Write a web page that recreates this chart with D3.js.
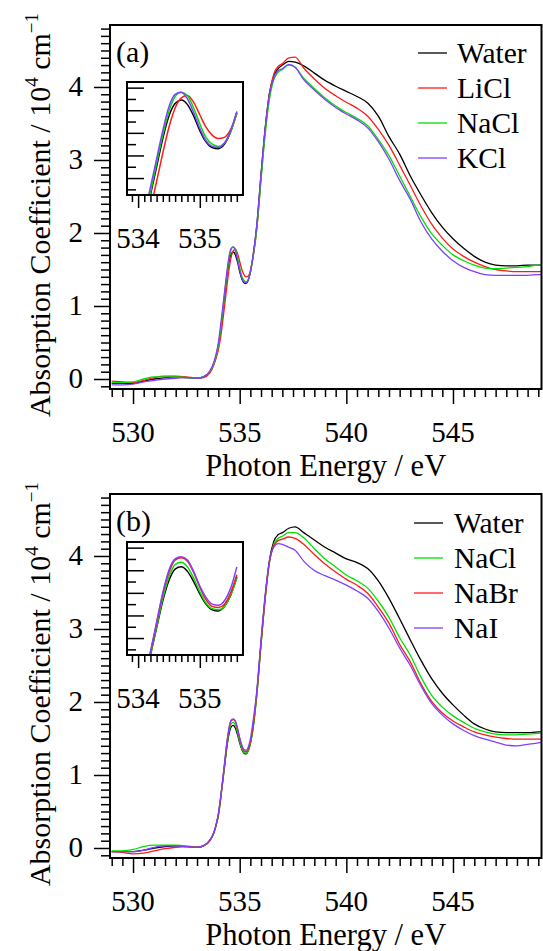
<!DOCTYPE html>
<html><head><meta charset="utf-8">
<script src="https://cdn.jsdelivr.net/npm/d3@7"></script>
</head><body style="margin:0">
<svg id="chart" width="543" height="951"></svg>
<script>
// ---------------- DATA ----------------
const energy = [529.0, 529.5, 530.0, 530.5, 531.0, 531.5, 532.0, 532.5, 533.0, 533.3, 533.6,
  533.8, 533.9, 534.0, 534.1, 534.2, 534.3, 534.4, 534.5, 534.6, 534.7, 534.8, 534.9, 535.0, 535.1, 535.2, 535.3, 535.4, 535.5, 535.6,
  535.8, 536.0, 536.2, 536.4, 536.6, 536.8, 537.0, 537.3, 537.6,
  538.0, 538.5, 539.0, 539.5, 540.0, 540.5, 541.0, 541.5, 542.0, 542.5, 543.0, 543.5, 544.0, 544.5, 545.0, 545.5, 546.0, 546.5, 547.0, 547.5, 548.0, 548.5, 549.0, 549.2];

const namesA = ["Water", "LiCl", "NaCl", "KCl"];
const colorsA = ["#000000", "#ff1a1a", "#00e000", "#7f3fff"];
const waterA = [-0.06, -0.06, -0.06, -0.03, 0.00, 0.02, 0.03, 0.02, 0.01, 0.03, 0.10,
  0.22, 0.32, 0.45, 0.65, 0.90, 1.15, 1.40, 1.60, 1.71, 1.74, 1.70, 1.60, 1.47, 1.37, 1.32, 1.31, 1.35, 1.46, 1.63,
  2.10, 2.80, 3.45, 3.92, 4.15, 4.25, 4.30, 4.35, 4.34,
  4.29, 4.19, 4.09, 4.01, 3.94, 3.87, 3.78, 3.60, 3.32, 3.08, 2.78, 2.52, 2.28, 2.08, 1.92, 1.79, 1.68, 1.60, 1.56, 1.55, 1.55, 1.56, 1.56, 1.56];
const liclA = [-0.03, -0.04, -0.05, -0.02, 0.02, 0.04, 0.04, 0.03, 0.01, 0.02, 0.08,
  0.20, 0.29, 0.40, 0.56, 0.78, 1.02, 1.27, 1.50, 1.67, 1.76, 1.78, 1.72, 1.61, 1.50, 1.43, 1.40, 1.41, 1.48, 1.62,
  2.05, 2.75, 3.42, 3.92, 4.18, 4.28, 4.32, 4.40, 4.41,
  4.26, 4.11, 3.98, 3.88, 3.79, 3.71, 3.60, 3.42, 3.20, 2.93, 2.65, 2.37, 2.12, 1.93, 1.78, 1.68, 1.60, 1.54, 1.50, 1.48, 1.47, 1.47, 1.47, 1.47];
const naclA = [-0.05, -0.05, -0.04, 0.00, 0.03, 0.03, 0.03, 0.02, 0.01, 0.03, 0.10,
  0.22, 0.32, 0.46, 0.66, 0.92, 1.18, 1.43, 1.64, 1.77, 1.81, 1.78, 1.67, 1.53, 1.41, 1.35, 1.33, 1.36, 1.46, 1.63,
  2.05, 2.72, 3.36, 3.84, 4.10, 4.20, 4.24, 4.30, 4.27,
  4.12, 3.98, 3.85, 3.74, 3.65, 3.57, 3.47, 3.28, 3.06, 2.78, 2.50, 2.22, 1.99, 1.83, 1.70, 1.62, 1.56, 1.52, 1.51, 1.52, 1.53, 1.54, 1.56, 1.56];
const kclA = [-0.08, -0.08, -0.07, -0.04, -0.02, 0.00, 0.01, 0.02, 0.01, 0.03, 0.11,
  0.24, 0.35, 0.50, 0.72, 0.97, 1.22, 1.47, 1.68, 1.79, 1.81, 1.75, 1.63, 1.49, 1.38, 1.33, 1.32, 1.36, 1.47, 1.64,
  2.10, 2.80, 3.44, 3.90, 4.13, 4.22, 4.25, 4.31, 4.27,
  4.10, 3.96, 3.83, 3.72, 3.63, 3.55, 3.44, 3.25, 3.01, 2.72, 2.46, 2.15, 1.92, 1.75, 1.62, 1.53, 1.47, 1.43, 1.42, 1.42, 1.42, 1.42, 1.43, 1.43];

const namesB = ["Water", "NaCl", "NaBr", "NaI"];
const colorsB = ["#000000", "#00e000", "#ff1a1a", "#7f3fff"];
const waterB = [-0.05, -0.05, -0.05, -0.03, 0.00, 0.02, 0.03, 0.02, 0.01, 0.03, 0.10,
  0.22, 0.32, 0.45, 0.66, 0.90, 1.14, 1.38, 1.56, 1.66, 1.68, 1.64, 1.55, 1.44, 1.35, 1.30, 1.29, 1.33, 1.43, 1.59,
  2.10, 2.80, 3.45, 3.95, 4.20, 4.29, 4.32, 4.38, 4.40,
  4.32, 4.22, 4.12, 4.04, 3.96, 3.91, 3.83, 3.66, 3.42, 3.14, 2.85, 2.57, 2.32, 2.12, 1.96, 1.82, 1.70, 1.63, 1.59, 1.58, 1.58, 1.58, 1.59, 1.59];
const naclB = [-0.04, -0.04, -0.02, 0.02, 0.04, 0.04, 0.04, 0.03, 0.01, 0.03, 0.10,
  0.21, 0.31, 0.44, 0.65, 0.90, 1.15, 1.40, 1.59, 1.70, 1.72, 1.68, 1.58, 1.46, 1.36, 1.31, 1.30, 1.33, 1.43, 1.58,
  2.08, 2.78, 3.42, 3.92, 4.16, 4.24, 4.27, 4.32, 4.32,
  4.25, 4.10, 3.96, 3.85, 3.74, 3.66, 3.56, 3.38, 3.16, 2.88, 2.64, 2.34, 2.09, 1.93, 1.81, 1.72, 1.64, 1.59, 1.56, 1.55, 1.55, 1.56, 1.57, 1.58];
const nabrB = [-0.05, -0.06, -0.08, -0.07, -0.04, -0.01, 0.01, 0.02, 0.01, 0.03, 0.10,
  0.22, 0.32, 0.46, 0.67, 0.92, 1.18, 1.44, 1.63, 1.74, 1.76, 1.73, 1.63, 1.50, 1.39, 1.33, 1.32, 1.35, 1.45, 1.61,
  2.12, 2.80, 3.44, 3.92, 4.14, 4.21, 4.23, 4.26, 4.24,
  4.16, 4.02, 3.89, 3.78, 3.68, 3.60, 3.49, 3.30, 3.08, 2.79, 2.55, 2.25, 2.01, 1.85, 1.74, 1.66, 1.59, 1.55, 1.52, 1.50, 1.49, 1.49, 1.49, 1.49];
const naiB = [-0.05, -0.05, -0.05, -0.03, 0.01, 0.03, 0.03, 0.02, 0.01, 0.03, 0.11,
  0.22, 0.33, 0.47, 0.68, 0.93, 1.19, 1.45, 1.65, 1.75, 1.77, 1.74, 1.64, 1.51, 1.41, 1.35, 1.34, 1.38, 1.49, 1.68,
  2.15, 2.85, 3.48, 3.94, 4.12, 4.17, 4.16, 4.12, 4.08,
  3.93, 3.80, 3.73, 3.67, 3.60, 3.52, 3.42, 3.24, 3.01, 2.74, 2.50, 2.22, 1.98, 1.82, 1.70, 1.61, 1.54, 1.49, 1.45, 1.41, 1.40, 1.42, 1.44, 1.45];

const xMajorTicks = [530, 535, 540, 545];
const yMajorTicks = [0, 1, 2, 3, 4];
const insetXMajorTicks = [534, 535];
const panelLabels = ["(a)", "(b)"];
const xTitle = "Photon Energy / eV";

// ---------------- LAYOUT ----------------
const panels = [
  { names: namesA, colors: colorsA, series: [waterA, liclA, naclA, kclA], label: panelLabels[0],
    y0: 25, y1: 389, iy0: 82, iy1: 195, lx0: 418, lx1: 447, tx: 457, legY: 53 },
  { names: namesB, colors: colorsB, series: [waterB, naclB, nabrB, naiB], label: panelLabels[1],
    y0: 494, y1: 858, iy0: 542, iy1: 655, lx0: 414, lx1: 443, tx: 454, legY: 523 }
];
const X0 = 110, X1 = 541.5, IX0 = 127, IX1 = 243;

const svg = d3.select("#chart");

function addText(x, y, size, str, anchor) {
  return svg.append("text").attr("x", x).attr("y", y)
    .style("font-family", '"Liberation Serif"').attr("font-size", size)
    .attr("text-anchor", anchor || "start").text(str);
}
function tickLines(g) { g.select(".domain").remove(); g.selectAll("text").remove();
  g.selectAll("line").attr("stroke", "#000").attr("stroke-width", 1.5); }

panels.forEach((P, pi) => {
  const x = d3.scaleLinear().domain([528.92, 549.15]).range([X0, X1]);
  const y = d3.scaleLinear().domain([-0.137, 4.849]).range([P.y1, P.y0]);
  const g = svg.append("g");
  const clipId = "clip" + pi;
  svg.append("clipPath").attr("id", clipId).append("rect")
    .attr("x", X0).attr("y", P.y0).attr("width", X1 - X0).attr("height", P.y1 - P.y0);

  const xMinor = d3.range(1058, 1099).map(i => i / 2).filter(v => !xMajorTicks.includes(v));
  const yMinor = d3.range(-1, 49).filter(i => i % 10 !== 0).map(i => i / 10);
  g.append("g").attr("transform", `translate(0,${P.y1})`).call(d3.axisBottom(x).tickValues(xMinor).tickSize(8)).call(tickLines);
  g.append("g").attr("transform", `translate(0,${P.y1})`).call(d3.axisBottom(x).tickValues(xMajorTicks).tickSize(15)).call(tickLines);
  g.append("g").attr("transform", `translate(${X0},0)`).call(d3.axisLeft(y).tickValues(yMinor).tickSize(9)).call(tickLines);
  g.append("g").attr("transform", `translate(${X0},0)`).call(d3.axisLeft(y).tickValues(yMajorTicks).tickSize(16)).call(tickLines);
  xMajorTicks.forEach(v => addText(x(v), P.y1 + 53, 29, String(v), "middle"));
  yMajorTicks.forEach(v => addText(X0 - 27, y(v) + 9, 29, String(v), "end"));

  const line = d3.line().x(d => x(d[0])).y(d => y(d[1])).curve(d3.curveMonotoneX);
  const lg = g.append("g").attr("clip-path", `url(#${clipId})`);
  P.series.forEach((s, i) => {
    lg.append("path").datum(energy.map((e, k) => [e, s[k]]))
      .attr("d", line).attr("fill", "none").attr("stroke", P.colors[i]).attr("stroke-width", 1.3);
  });
  g.append("rect").attr("x", X0).attr("y", P.y0).attr("width", X1 - X0).attr("height", P.y1 - P.y0)
    .attr("fill", "none").attr("stroke", "#000").attr("stroke-width", 2);

  addText(116, P.y0 + 37, 30, P.label);
  P.names.forEach((n, i) => {
    const ly = P.legY + 35 * i;
    g.append("line").attr("x1", P.lx0).attr("x2", P.lx1).attr("y1", ly).attr("y2", ly)
      .attr("stroke", P.colors[i]).attr("stroke-width", 1.3);
    addText(P.tx, ly + 10, 29.5, n);
  });
  addText((X0 + X1) / 2, P.y1 + 87, 30.5, xTitle, "middle");

  const yt = svg.append("text").attr("transform", `translate(50,${P.y0 + 190}) rotate(-90)`)
    .attr("text-anchor", "middle").style("font-family", '"Liberation Serif"').attr("font-size", 30);
  yt.append("tspan").text("Absorption Coefficient / 10");
  yt.append("tspan").attr("dy", -12).attr("font-size", 19).text("4");
  yt.append("tspan").attr("dy", 12).text(" cm");
  yt.append("tspan").attr("dy", -12).attr("font-size", 19).text("\u22121");

  // Inset
  const xi = d3.scaleLinear().domain([533.82, 535.70]).range([IX0, IX1]);
  const yi = d3.scaleLinear().domain([0.9, 1.9]).range([P.iy1, P.iy0]);
  const ig = g.append("g");
  const iclip = "iclip" + pi;
  svg.append("clipPath").attr("id", iclip).append("rect")
    .attr("x", IX0).attr("y", P.iy0).attr("width", IX1 - IX0).attr("height", P.iy1 - P.iy0);
  ig.append("rect").attr("x", IX0).attr("y", P.iy0).attr("width", IX1 - IX0).attr("height", P.iy1 - P.iy0).attr("fill", "#fff");
  const iline = d3.line().x(d => xi(d[0])).y(d => yi(d[1])).curve(d3.curveMonotoneX);
  const ilg = ig.append("g").attr("clip-path", `url(#${iclip})`);
  P.series.forEach((s, i) => {
    const pts = energy.map((e, k) => [e, s[k]]).filter(d => d[0] >= 533.8 && d[0] <= 535.6);
    ilg.append("path").datum(pts).attr("d", iline).attr("fill", "none")
      .attr("stroke", P.colors[i]).attr("stroke-width", 1.5);
  });
  const ixMinor = d3.range(5339, 5357).filter(i => i % 10 !== 0).map(i => i / 10);
  ig.append("g").attr("transform", `translate(0,${P.iy1})`).call(d3.axisBottom(xi).tickValues(ixMinor).tickSize(7)).call(tickLines);
  ig.append("g").attr("transform", `translate(0,${P.iy1})`).call(d3.axisBottom(xi).tickValues(insetXMajorTicks).tickSize(13)).call(tickLines);
  insetXMajorTicks.forEach(v => addText(xi(v), P.iy1 + 53, 29, String(v), "middle"));
  const iyMajor = [1.05, 1.25, 1.45, 1.65, 1.85];
  const iyMinor = [0.95, 1.15, 1.35, 1.55, 1.75];
  ig.append("g").attr("transform", `translate(${IX0},0)`).call(d3.axisRight(yi).tickValues(iyMajor).tickSize(17)).call(tickLines);
  ig.append("g").attr("transform", `translate(${IX0},0)`).call(d3.axisRight(yi).tickValues(iyMinor).tickSize(9)).call(tickLines);
  ig.append("rect").attr("x", IX0).attr("y", P.iy0).attr("width", IX1 - IX0).attr("height", P.iy1 - P.iy0)
    .attr("fill", "none").attr("stroke", "#000").attr("stroke-width", 2);
});
</script>
</body></html>
